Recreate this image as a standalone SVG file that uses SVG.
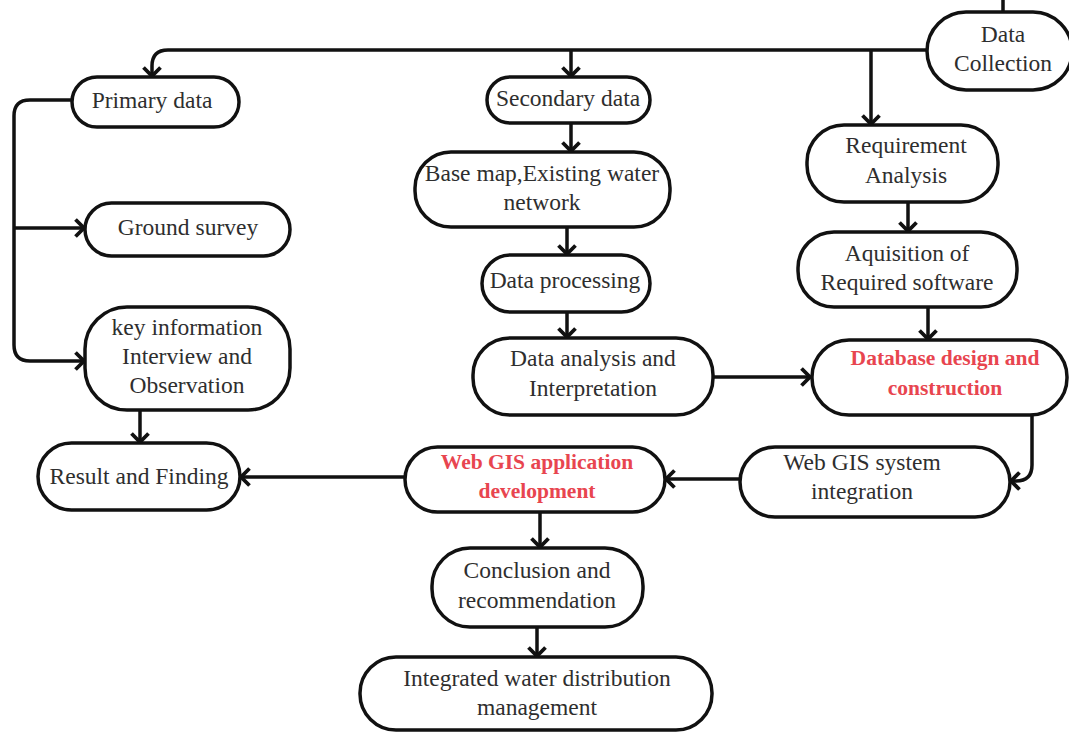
<svg xmlns="http://www.w3.org/2000/svg" width="1069" height="733" viewBox="0 0 1069 733">
  <style>
    .box { fill: #ffffff; stroke: #111111; stroke-width: 3.5; }
    .lbl { font-family: "Liberation Serif", "Times New Roman", serif; font-size: 23.5px; fill: #2e2e2e; text-anchor: middle; dominant-baseline: central; }
    .hot { fill: #e8454f; font-weight: bold; font-size: 21.5px; }
    .wire { fill: none; stroke: #111111; stroke-width: 3.5; }
    .arrow { marker-end: url(#chev); }
  </style>
  <defs>
    <marker id="chev" markerUnits="userSpaceOnUse" markerWidth="24" markerHeight="24" viewBox="-12 -12 24 24" refX="0" refY="0" orient="auto">
      <path d="M-8.5,-8.5 L0,0 L-8.5,8.5" fill="none" stroke="#111111" stroke-width="3.8"/>
    </marker>
  </defs>
  <rect width="1069" height="733" fill="#ffffff"/>

  <g id="connectors">
    <path class="wire" d="M1003,0 V11" stroke-width="2"/>
    <path class="wire arrow" d="M927,50 H168 Q152,50 152,66 V76"/>
    <path class="wire arrow" d="M571,50 V76"/>
    <path class="wire arrow" d="M871,50 V124"/>
    <path class="wire arrow" d="M72,100 H30 Q14,100 14,116 V345 Q14,361 30,361 H84"/>
    <path class="wire arrow" d="M14,228 H84"/>
    <path class="wire arrow" d="M140,410 V442"/>
    <path class="wire arrow" d="M571,123 V151"/>
    <path class="wire arrow" d="M567,227 V254"/>
    <path class="wire arrow" d="M567,312 V337"/>
    <path class="wire arrow" d="M713,377 H810"/>
    <path class="wire arrow" d="M908,202 V231"/>
    <path class="wire arrow" d="M928,307 V339"/>
    <path class="wire arrow" d="M1032,415 V465 Q1032,481 1016,481 H1011"/>
    <path class="wire arrow" d="M740,479 H666"/>
    <path class="wire arrow" d="M405,477 H241"/>
    <path class="wire arrow" d="M540,512 V547"/>
    <path class="wire arrow" d="M537,627 V656"/>
  </g>

  <g id="data-collection">
    <rect class="box" x="927" y="12" width="145" height="78" rx="39"/>
    <text class="lbl" x="1003" y="34">Data</text>
    <text class="lbl" x="1003" y="63">Collection</text>
  </g>

  <g id="primary-data">
    <rect class="box" x="72" y="77" width="167" height="50" rx="25"/>
    <text class="lbl" x="152" y="100">Primary data</text>
  </g>

  <g id="ground-survey">
    <rect class="box" x="85" y="203" width="205" height="53" rx="26.5"/>
    <text class="lbl" x="188" y="227">Ground survey</text>
  </g>

  <g id="key-information">
    <rect class="box" x="85" y="307" width="205" height="103" rx="42"/>
    <text class="lbl" x="187" y="327">key information</text>
    <text class="lbl" x="187" y="356">Interview and</text>
    <text class="lbl" x="187" y="385">Observation</text>
  </g>

  <g id="result-finding">
    <rect class="box" x="38" y="443" width="202" height="67" rx="33.5"/>
    <text class="lbl" x="139" y="476">Result and Finding</text>
  </g>

  <g id="secondary-data">
    <rect class="box" x="487" y="77" width="163" height="46" rx="23"/>
    <text class="lbl" x="568" y="98">Secondary data</text>
  </g>

  <g id="base-map">
    <rect class="box" x="415" y="152" width="255" height="75" rx="36"/>
    <text class="lbl" x="542" y="173">Base map,Existing water</text>
    <text class="lbl" x="542" y="202">network</text>
  </g>

  <g id="data-processing">
    <rect class="box" x="482" y="255" width="168" height="57" rx="28.5"/>
    <text class="lbl" x="565" y="280">Data processing</text>
  </g>

  <g id="data-analysis">
    <rect class="box" x="473" y="338" width="240" height="77" rx="37"/>
    <text class="lbl" x="593" y="358">Data analysis and</text>
    <text class="lbl" x="593" y="388">Interpretation</text>
  </g>

  <g id="requirement-analysis">
    <rect class="box" x="807" y="125" width="191" height="77" rx="37"/>
    <text class="lbl" x="906" y="145">Requirement</text>
    <text class="lbl" x="906" y="175">Analysis</text>
  </g>

  <g id="software-acquisition">
    <rect class="box" x="798" y="232" width="219" height="75" rx="36"/>
    <text class="lbl" x="907" y="253">Aquisition of</text>
    <text class="lbl" x="907" y="282">Required software</text>
  </g>

  <g id="database-design">
    <rect class="box" x="812" y="340" width="255" height="75" rx="37"/>
    <text class="lbl hot" x="945" y="358">Database design and</text>
    <text class="lbl hot" x="945" y="388">construction</text>
  </g>

  <g id="webgis-integration">
    <rect class="box" x="740" y="447" width="270" height="70" rx="35"/>
    <text class="lbl" x="862" y="462">Web GIS system</text>
    <text class="lbl" x="862" y="491">integration</text>
  </g>

  <g id="webgis-application">
    <rect class="box" x="405" y="447" width="260" height="65" rx="32.5"/>
    <text class="lbl hot" x="537" y="462">Web GIS application</text>
    <text class="lbl hot" x="537" y="491">development</text>
  </g>

  <g id="conclusion">
    <rect class="box" x="432" y="548" width="211" height="79" rx="38"/>
    <text class="lbl" x="537" y="570">Conclusion and</text>
    <text class="lbl" x="537" y="600">recommendation</text>
  </g>

  <g id="integrated-management">
    <rect class="box" x="360" y="657" width="352" height="73" rx="36"/>
    <text class="lbl" x="537" y="678">Integrated water distribution</text>
    <text class="lbl" x="537" y="707">management</text>
  </g>
</svg>
